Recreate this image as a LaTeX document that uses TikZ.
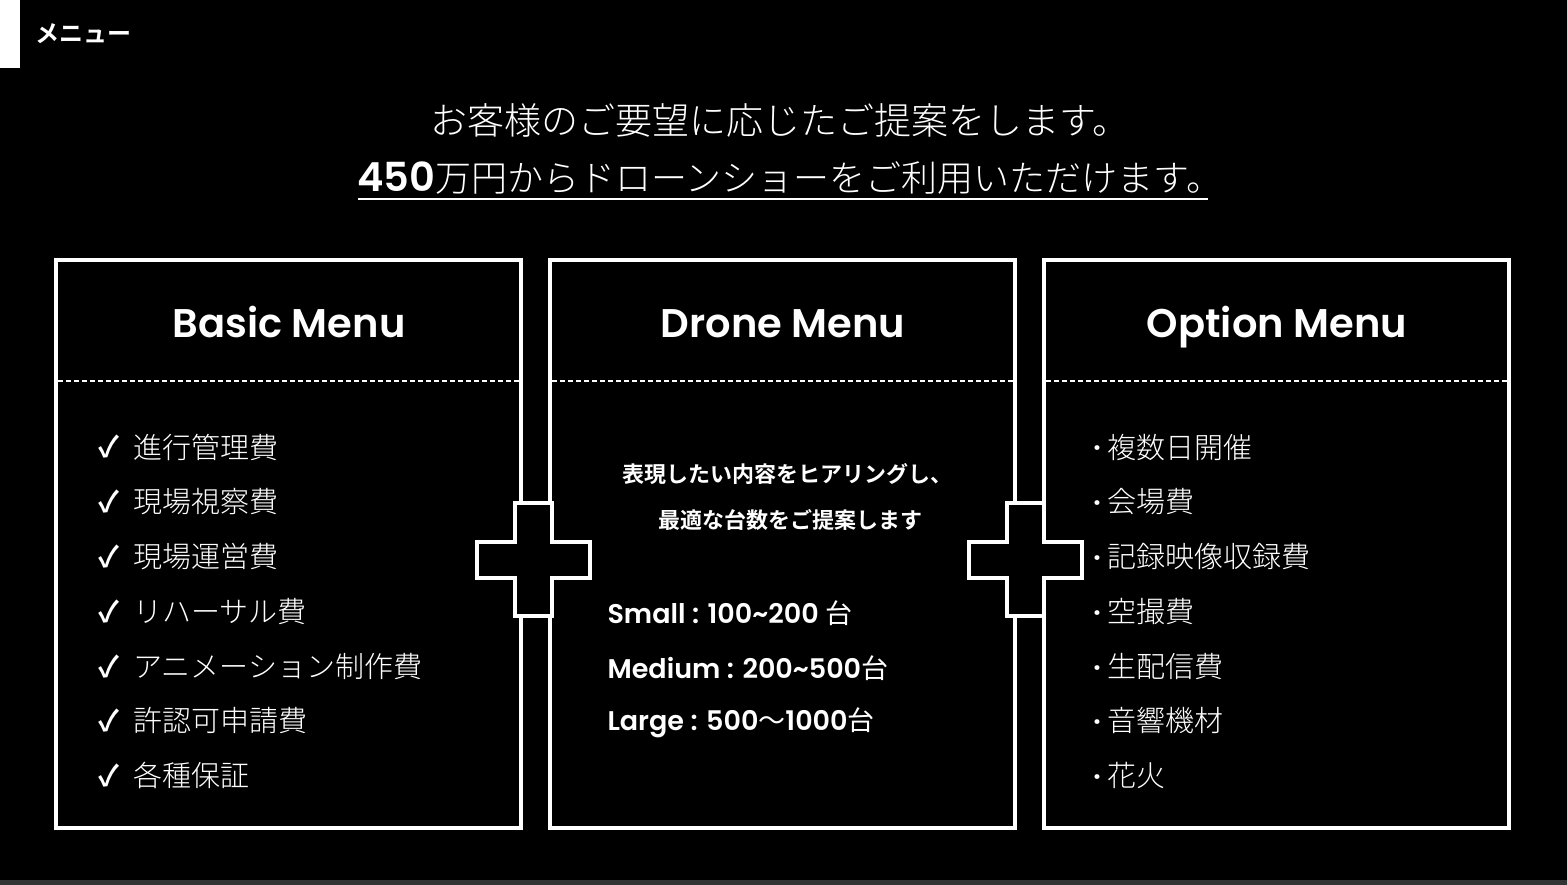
\documentclass[tikz,border=0pt]{standalone}
\usepackage{fontspec}
\setmainfont{Poppins}
\newfontfamily\jp{Noto Sans CJK JP}
\newfontfamily\jpl{Noto Sans CJK JP Light}
\newfontfamily\jpb{Noto Sans CJK JP Bold}
\newfontfamily\pop{Poppins SemiBold}
\begin{document}
\begin{tikzpicture}[x=1pt,y=-1pt,
  menubox/.style={draw=white,line width=4pt},
  plusshape/.style={draw=white,fill=black,line width=4pt,line join=miter},
  head/.style={text=white,anchor=base,font=\pop\fontsize{40}{40}\selectfont},
  item/.style={text=white,anchor=west,font=\jpl\fontsize{29}{29}\selectfont},
  dtext/.style={text=white,anchor=west,font=\pop\fontsize{27}{27}\selectfont}]
\fill[black] (0,0) rectangle (1567,885);
\fill[white] (0,0) rectangle (20,68);
\fill[black!80] (0,880) rectangle (1567,885);
\node[text=white,anchor=west,font=\jpb\fontsize{24}{24}\selectfont] (menu) at (32,34) {メニュー};
\node[text=white,font=\jpl\fontsize{37}{37}\selectfont] (t1) at (780,120) {お客様のご要望に応じたご提案をします。};
\node[text=white,font=\jpl\fontsize{36}{36}\selectfont,anchor=west] (t2) at (354,178) {{\pop\fontsize{40}{40}\selectfont 450}万円からドローンショーをご利用いただけます。};
\draw[white,line width=2.5pt] (358,199) -- (1208,199);
\foreach \x/\n/\h in {56/a/Basic Menu,550/b/Drone Menu,1044/c/Option Menu}{
  \draw[menubox] (\x,260) rectangle ++(465,568);
  \draw[white,line width=1.2pt,dash pattern=on 5pt off 3pt] (\x+2,381) -- ++(461,0);
  \node[head] (h\n) at (\x+233,338) {\h};
}
\foreach \cx/\n in {533.5/p1,1025.5/p2}{
  \draw[plusshape] (\cx-18.5,503) -- (\cx+18.5,503) -- (\cx+18.5,542) -- (\cx+56.5,542) -- (\cx+56.5,578)
   -- (\cx+18.5,578) -- (\cx+18.5,616) -- (\cx-18.5,616) -- (\cx-18.5,578) -- (\cx-56.5,578)
   -- (\cx-56.5,542) -- (\cx-18.5,542) -- cycle;
}
\foreach \t [count=\i] in {進行管理費,現場視察費,現場運営費,リハーサル費,アニメーション制作費,許認可申請費,各種保証}{
  \node[text=white,anchor=west,font=\jpb\fontsize{29}{29}\selectfont] (ck\i) at (95,447+54.8*\i-54.8) {✓};
  \node[item] (bi\i) at (130,447+54.8*\i-54.8) {\t};
}
\foreach \t [count=\i] in {複数日開催,会場費,記録映像収録費,空撮費,生配信費,音響機材,花火}{
  \node[text=white,anchor=west,font=\pop\fontsize{29}{29}\selectfont] (od\i) at (1090,452+54.8*\i-54.8) {·};
  \node[item] (oi\i) at (1104,447+54.8*\i-54.8) {\t};
}
\node[text=white,font=\jpb\fontsize{22}{22}\selectfont] (d1) at (787,474) {表現したい内容をヒアリングし、};
\node[text=white,font=\jpb\fontsize{22}{22}\selectfont] (d2) at (790,520) {最適な台数をご提案します};
\node[dtext] (s1) at (604,613) {Small : 100\textasciitilde200 {\jp 台}};
\node[dtext] (s2) at (604,668) {Medium : 200\textasciitilde500{\jp 台}};
\node[dtext] (s3) at (604,723) {Large : 500{\jp 〜}1000{\jp 台}};
\end{tikzpicture}
\end{document}
